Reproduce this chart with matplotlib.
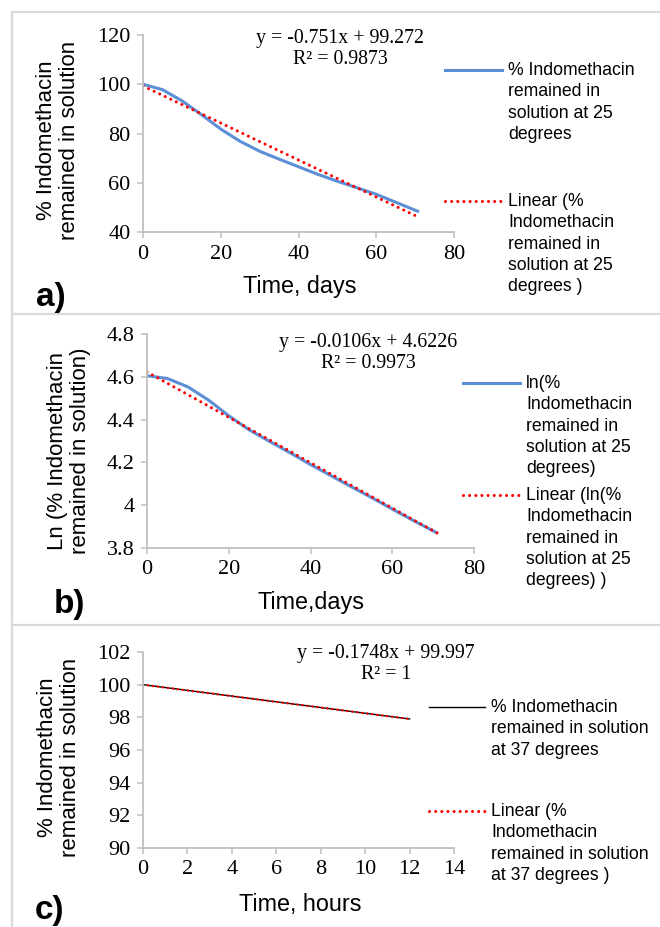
import numpy as np
import matplotlib
matplotlib.use('Agg')
import matplotlib.pyplot as plt
from matplotlib.lines import Line2D

W, H = 660, 927

# panel a: % remaining at 25 degrees
days_a = [0, 5, 10, 15, 20, 25, 30, 35, 40, 45, 50, 55, 60, 65, 71]
pct_a = [100, 97.8, 93.3, 87.7, 81.8, 76.8, 72.8, 69.6, 66.5, 63.4, 60.6, 58.0, 55.3, 52.1, 48.2]
fit_a = (-0.751, 99.272)

# panel b: ln(% remaining) at 25 degrees
days_b = [0, 5, 10, 15, 20, 25, 30, 35, 40, 45, 50, 55, 60, 65, 71]
ln_b = [4.605, 4.592, 4.553, 4.492, 4.418, 4.352, 4.298, 4.245, 4.19, 4.138, 4.086, 4.035, 3.982, 3.93, 3.87]
fit_b = (-0.0106, 4.6226)

# panel c: % remaining at 37 degrees
hours_c = [0, 2, 4, 6, 8, 10, 12]
pct_c = [100, 99.65, 99.30, 98.95, 98.60, 98.25, 97.90]
fit_c = (-0.1748, 99.997)

BLUE = '#5B8FD6'
RED = '#FF0000'
GRID = '#BFBFBF'
SERIF = ['Liberation Serif', 'DejaVu Serif']
SANS = ['Liberation Sans', 'DejaVu Sans']

TICK_FS = 16
TITLE_FS = 16.8
YLAB_FS = 16
LEG_FS = 12.7
EQ_FS = 14.3
TAG_FS = 24

plt.rcParams['font.family'] = SANS

fig = plt.figure(figsize=(W / 100, H / 100), dpi=100)


def px(x, y):
    return x / W, 1 - y / H


def make_ax(left, top, right, bottom):
    ax = fig.add_axes([left / W, 1 - bottom / H, (right - left) / W, (bottom - top) / H])
    for s in ['top', 'right']:
        ax.spines[s].set_visible(False)
    for s in ['left', 'bottom']:
        ax.spines[s].set_color(GRID)
        ax.spines[s].set_linewidth(1.3)
    ax.tick_params(direction='out', length=4, width=1.1, color=GRID, labelsize=TICK_FS, pad=5)
    return ax


def fix_ticks(ax):
    for lab in ax.get_xticklabels() + ax.get_yticklabels():
        lab.set_family(SERIF)
        lab.set_color('#000000')


def dotted(ax, x, y, lw=2.2):
    ax.plot(x, y, color=RED, lw=lw, linestyle=(0, (0.01, 2.0)), dash_capstyle='round')


def legend_entry(x0, x1, y, label, style):
    yy = [1 - y / H] * 2
    xx = [x0 / W, x1 / W]
    if style == 'blue':
        ln = Line2D(xx, yy, transform=fig.transFigure, color=BLUE, lw=2.2)
    elif style == 'black':
        ln = Line2D(xx, yy, transform=fig.transFigure, color='black', lw=1.0)
    else:
        ln = Line2D(xx, yy, transform=fig.transFigure, color=RED, lw=2.2,
                    linestyle=(0, (0.01, 2.0)), dash_capstyle='round')
    fig.add_artist(ln)
    fig.text(*px(x1 + 6, y - 8), label, ha='left', va='top', fontsize=LEG_FS, linespacing=1.33)


# panel borders
for top in [12, 314, 625]:
    fig.add_artist(Line2D([12 / W, 1], [1 - top / H] * 2, transform=fig.transFigure, color='#D9D9D9', lw=1.6))
fig.add_artist(Line2D([12 / W, 12 / W], [0, 1 - 12 / H], transform=fig.transFigure, color='#D9D9D9', lw=1.6))

# ---- panel a
ax = make_ax(143, 35, 454, 232)
ax.plot(days_a, pct_a, color=BLUE, lw=2.2, solid_capstyle='butt')
xa = np.array([0, days_a[-1]])
dotted(ax, xa, fit_a[0] * xa + fit_a[1])
ax.set_xlim(0, 80)
ax.set_ylim(40, 120)
ax.set_xticks([0, 20, 40, 60, 80])
ax.set_yticks([40, 60, 80, 100, 120])
fix_ticks(ax)
fig.text(*px(340, 49), 'y = -0.751x + 99.272\nR² = 0.9873', ha='center', va='center',
         fontsize=EQ_FS, family=SERIF, linespacing=1.15)
fig.text(*px(58, 140), '% Indomethacin\nremained in solution', rotation=90, ha='center', va='center',
         fontsize=YLAB_FS, linespacing=1.1, multialignment='center')
fig.text(*px(300, 287), 'Time, days', ha='center', va='center', fontsize=TITLE_FS)
fig.text(*px(51, 297), 'a)', ha='center', va='center', fontsize=TAG_FS, fontweight='bold')
legend_entry(445, 502, 70, '% Indomethacin\nremained in\nsolution at 25\ndegrees', 'blue')
legend_entry(445, 502, 201, 'Linear (%\nIndomethacin\nremained in\nsolution at 25\ndegrees )', 'red')

# ---- panel b
ax = make_ax(147, 334, 474, 548)
ax.plot(days_b, ln_b, color=BLUE, lw=2.2, solid_capstyle='butt')
xb = np.array([0, days_b[-1]])
dotted(ax, xb, fit_b[0] * xb + fit_b[1])
ax.set_xlim(0, 80)
ax.set_ylim(3.8, 4.8)
ax.set_xticks([0, 20, 40, 60, 80])
ax.set_yticks([3.8, 4.0, 4.2, 4.4, 4.6, 4.8])
ax.set_yticklabels(['3.8', '4', '4.2', '4.4', '4.6', '4.8'])
fix_ticks(ax)
fig.text(*px(368, 353), 'y = -0.0106x + 4.6226\nR² = 0.9973', ha='center', va='center',
         fontsize=EQ_FS, family=SERIF, linespacing=1.15)
fig.text(*px(69, 451), 'Ln (% Indomethacin\nremained in solution)', rotation=90, ha='center', va='center',
         fontsize=YLAB_FS, linespacing=1.1, multialignment='center')
fig.text(*px(311, 603), 'Time,days', ha='center', va='center', fontsize=TITLE_FS)
fig.text(*px(69, 605), 'b)', ha='center', va='center', fontsize=TAG_FS, fontweight='bold')
legend_entry(463, 520, 383, 'ln(%\nIndomethacin\nremained in\nsolution at 25\ndegrees)', 'blue')
legend_entry(463, 520, 495, 'Linear (ln(%\nIndomethacin\nremained in\nsolution at 25\ndegrees) )', 'red')

# ---- panel c
ax = make_ax(143, 652, 454, 848)
ax.plot(hours_c, pct_c, color='black', lw=1.0)
xc = np.array([0, hours_c[-1]])
dotted(ax, xc, fit_c[0] * xc + fit_c[1], lw=1.8)
ax.set_xlim(0, 14)
ax.set_ylim(90, 102)
ax.set_xticks(range(0, 15, 2))
ax.set_yticks(range(90, 103, 2))
fix_ticks(ax)
fig.text(*px(386, 664), 'y = -0.1748x + 99.997\nR² = 1', ha='center', va='center',
         fontsize=EQ_FS, family=SERIF, linespacing=1.15)
fig.text(*px(59, 757), '% Indomethacin\nremained in solution', rotation=90, ha='center', va='center',
         fontsize=YLAB_FS, linespacing=1.1, multialignment='center')
fig.text(*px(300, 905), 'Time, hours', ha='center', va='center', fontsize=TITLE_FS)
fig.text(*px(50, 911), 'c)', ha='center', va='center', fontsize=TAG_FS, fontweight='bold')
legend_entry(429, 485, 707, '% Indomethacin\nremained in solution\nat 37 degrees', 'black')
legend_entry(429, 485, 811, 'Linear (%\nIndomethacin\nremained in solution\nat 37 degrees )', 'red')

fig.savefig('out.png', dpi=100)
